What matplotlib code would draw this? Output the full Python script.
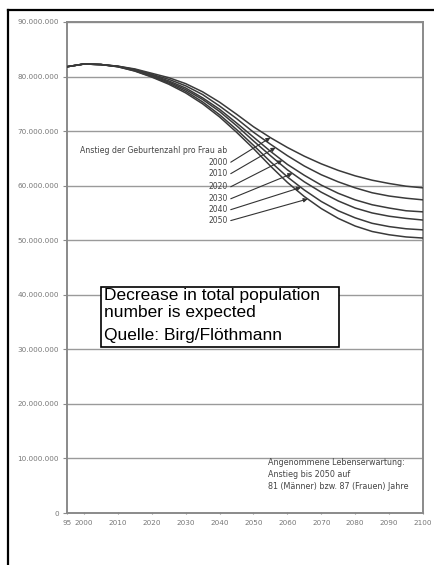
import numpy as np
import matplotlib
matplotlib.use("Agg")
import matplotlib.pyplot as plt
from matplotlib.lines import Line2D
from matplotlib.patches import Rectangle

years = [1995, 2000, 2005, 2010, 2015, 2020, 2025, 2030, 2035, 2040, 2045,
         2050, 2055, 2060, 2065, 2070, 2075, 2080, 2085, 2090, 2095, 2100]

# population in millions, by start year of rising birth rate
pop_2000 = [81.8, 82.3, 82.2, 81.9, 81.4, 80.6, 79.8, 78.7, 77.2, 75.3, 73.1,
            70.8, 68.8, 67.0, 65.4, 64.0, 62.8, 61.8, 61.0, 60.4, 59.9, 59.6]
pop_2010 = [81.8, 82.3, 82.2, 81.9, 81.3, 80.4, 79.5, 78.3, 76.7, 74.6, 72.3,
            69.8, 67.6, 65.5, 63.6, 62.0, 60.7, 59.6, 58.7, 58.1, 57.7, 57.4]
pop_2020 = [81.8, 82.3, 82.2, 81.85, 81.2, 80.3, 79.2, 77.9, 76.1, 74.0, 71.5,
            68.9, 66.3, 63.9, 61.9, 60.1, 58.6, 57.4, 56.5, 55.9, 55.4, 55.2]
pop_2030 = [81.8, 82.3, 82.2, 81.85, 81.15, 80.15, 79.0, 77.6, 75.8, 73.6, 71.0,
            68.2, 65.5, 62.9, 60.7, 58.8, 57.2, 55.9, 55.0, 54.4, 54.0, 53.7]
pop_2040 = [81.8, 82.3, 82.2, 81.8, 81.05, 80.0, 78.8, 77.3, 75.35, 73.0, 70.3,
            67.4, 64.4, 61.6, 59.2, 57.1, 55.4, 54.1, 53.1, 52.5, 52.1, 51.9]
pop_2050 = [81.8, 82.3, 82.2, 81.8, 81.0, 79.9, 78.6, 77.0, 75.0, 72.6, 69.8,
            66.8, 63.6, 60.6, 58.0, 55.8, 54.0, 52.6, 51.6, 51.0, 50.6, 50.4]

series = [pop_2000, pop_2010, pop_2020, pop_2030, pop_2040, pop_2050]
series_labels = ["2000", "2010", "2020", "2030", "2040", "2050"]
arrow_tip_years = [2055, 2056.5, 2058.5, 2061.5, 2064, 2066]

y_ticks = [0, 10, 20, 30, 40, 50, 60, 70, 80, 90]
y_tick_labels = ["0", "10.000.000", "20.000.000", "30.000.000", "40.000.000",
                 "50.000.000", "60.000.000", "70.000.000", "80.000.000", "90.000.000"]
x_ticks = [1995, 2000, 2010, 2020, 2030, 2040, 2050, 2060, 2070, 2080, 2090, 2100]
x_tick_labels = ["95", "2000", "2010", "2020", "2030", "2040", "2050", "2060",
                 "2070", "2080", "2090", "2100"]

fig = plt.figure(figsize=(4.35, 5.65), dpi=100)
fig.patch.set_facecolor("white")
ax = fig.add_axes([67/435, 52/565, 356/435, 491/565])

gray = "#8a8a8a"
for y in y_ticks[1:]:
    ax.axhline(y, color="#9a9a9a", lw=1.0, zorder=1)

for s in series:
    ax.plot(years, s, color="#3a3a3a", lw=1.1, zorder=3)

ax.set_xlim(1995, 2100)
ax.set_ylim(0, 90)
ax.set_yticks(y_ticks)
ax.set_yticklabels(y_tick_labels, fontsize=5.2, color="#777777")
ax.set_xticks(x_ticks)
ax.set_xticklabels(x_tick_labels, fontsize=5.2, color="#777777")
ax.tick_params(axis="y", length=3, width=0.8, color=gray, pad=3)
ax.tick_params(axis="x", length=2, width=0.8, color=gray, pad=4, direction="inout")
for sp in ax.spines.values():
    sp.set_color(gray)
    sp.set_linewidth(1.4)

# legend-like annotations
ax.text(2042.3, 66.4, "Anstieg der Geburtenzahl pro Frau ab", fontsize=5.6,
        color="#444444", ha="right", va="center")
label_y = [64.3, 62.2, 59.8, 57.6, 55.6, 53.6]
for lab, s, ty, ly in zip(series_labels, series, arrow_tip_years, label_y):
    ax.text(2042.5, ly, lab, fontsize=5.5, color="#444444", ha="right", va="center")
    tip_val = np.interp(ty, years, s)
    ax.annotate("", xy=(ty, tip_val), xytext=(2043.3, ly),
                arrowprops=dict(arrowstyle="-|>", color="#333333", lw=0.8,
                                mutation_scale=6, shrinkA=0, shrinkB=0),
                zorder=4)

ax.text(2054.3, 10.0, "Angenommene Lebenserwartung:\nAnstieg bis 2050 auf\n81 (Männer) bzw. 87 (Frauen) Jahre",
        fontsize=5.8, color="#444444", ha="left", va="top", linespacing=1.4)

# overlay box
fig.patches.append(Rectangle((101/435, 1 - 347/565), 238/435, 60/565,
                             transform=fig.transFigure, facecolor="white",
                             edgecolor="black", lw=1.2, zorder=5))
fig.text(104/435, 1 - 288/565,
         "Decrease in total population\nnumber is expected",
         fontsize=12.5, family="Liberation Sans", ha="left", va="top",
         linespacing=1.13, zorder=10)
fig.text(104/435, 1 - 328/565, "Quelle: Birg/Flöthmann",
         fontsize=12.5, family="Liberation Sans", ha="left", va="top", zorder=10)

# outer frame (top and left)
fig.add_artist(Line2D([8/435, 1], [1 - 10/565, 1 - 10/565], transform=fig.transFigure,
                      color="black", lw=1.6))
fig.add_artist(Line2D([8/435, 8/435], [0, 1 - 10/565], transform=fig.transFigure,
                      color="black", lw=1.6))

fig.savefig("out.png", dpi=100, facecolor="white")
